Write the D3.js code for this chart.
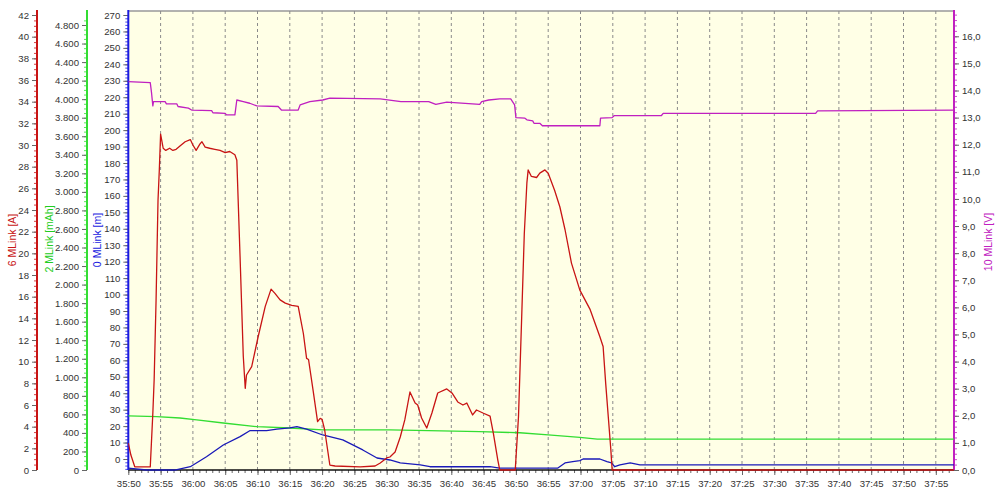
<!DOCTYPE html>
<html><head><meta charset="utf-8">
<script src="https://cdn.jsdelivr.net/npm/d3@7"></script>
<style>
body{margin:0;background:#fff}
svg{display:block;font-family:"Liberation Sans",Arial,sans-serif}
</style>
</head><body>
<svg id="c" width="1001" height="493"></svg>
<script>
// ---- data (time in minutes, label = mm:ss style "35:50") ----
const timeTicks = d3.range(2150, 2276, 5);
const ampTicks = d3.range(0, 43, 2);
const mahTicks = d3.range(0, 4801, 200);
const meterTicks = d3.range(0, 271, 10);
const voltTicks = d3.range(0, 17, 1);

const redTime = [2150,2150.4,2151.0,2153.4,2153.8,2154.0,2154.3,2154.6,2154.8,2155.0,2155.4,2155.8,2156.4,2156.9,2157.4,2158.0,2158.8,2159.6,2160.0,2160.5,2161.1,2161.4,2161.9,2162.6,2163.4,2164.2,2165.0,2165.7,2166.5,2166.8,2167.3,2167.8,2168.1,2168.3,2169.1,2170.1,2171.2,2172.1,2172.7,2173.5,2174.3,2175.3,2176.3,2177.1,2177.6,2177.9,2178.6,2179.3,2179.7,2180.0,2180.4,2181.2,2182.0,2185.9,2188.2,2189.0,2190.0,2190.5,2191.3,2192.1,2192.8,2193.6,2194.4,2194.8,2195.4,2196.2,2197.0,2197.9,2199.3,2200.1,2201.0,2201.8,2202.4,2203.3,2203.9,2204.9,2206.0,2206.5,2207.2,2207.5,2209.9,2210.4,2210.9,2211.3,2211.7,2211.9,2212.4,2213.2,2213.7,2214.5,2215.0,2216.0,2216.8,2217.6,2218.6,2219.9,2221.5,2223.0,2223.5,2223.9,2224.3,2224.7,2224.9,2277.8];
const redAmps = [2.49,1.38,0.30,0.28,5.26,8.31,15.7,24.9,27.7,31.0,29.7,29.5,29.7,29.5,29.6,29.9,30.3,30.5,30.0,29.5,30.1,30.3,29.8,29.7,29.6,29.5,29.3,29.4,29.1,28.6,19.7,10.5,7.54,8.77,9.54,12.3,15.1,16.7,16.3,15.7,15.4,15.2,15.1,12.6,10.3,10.2,7.38,4.46,4.77,4.68,3.69,0.46,0.37,0.28,0.37,0.65,1.11,1.20,1.66,3.05,4.62,7.20,6.18,6.00,4.80,3.88,5.26,7.11,7.48,7.11,6.28,6.00,6.18,5.08,5.54,5.26,4.98,3.42,0.92,0,0,4.92,14.2,21.8,26.5,27.7,27.1,27.0,27.4,27.7,27.4,25.8,24.3,22.2,19.1,16.6,14.8,12.3,11.4,8.00,4.92,1.85,0,0];

const blueTime = [2150,2152.8,2157.2,2159.6,2162.1,2164.7,2167.3,2168.8,2171.4,2173.0,2175.0,2176.1,2177.6,2180.1,2183.2,2186.3,2188.5,2190.5,2192.1,2195.2,2196.7,2206.0,2207.5,2216.5,2217.6,2218.8,2219.9,2220.4,2223.0,2224.1,2224.8,2225.3,2226.1,2227.7,2229.2,2277.8];
const blueMeters = [-5.5,-6.7,-6.7,-4.7,1.4,8.5,13.6,17.2,17.2,18.2,18.9,19.7,18.2,14.6,11.6,5.5,0.6,-0.6,-2.3,-3.6,-4.7,-4.7,-5.5,-5.5,-2.4,-1.6,-1.0,0,0,-1.6,-2.4,-4.7,-3.6,-2.4,-3.6,-3.6];

const greenTime = [2150,2154.4,2158.0,2160.6,2164.7,2169.9,2175.0,2180.1,2190.5,2204.4,2210.6,2215.0,2219.9,2222.6,2277.8];
const greenMah = [583,575,561,540,507,467,453,432,432,413,402,378,353,334,334];

const voltTime = [2150,2153.4,2153.6,2153.8,2153.9,2155.7,2155.9,2157.5,2157.7,2159.3,2159.8,2162.9,2163.1,2165.0,2165.2,2166.5,2166.8,2167.8,2168.8,2169.9,2173.2,2173.7,2176.3,2176.6,2178.1,2180.1,2181.2,2189.0,2192.2,2196.5,2197.6,2199.3,2204.4,2204.7,2205.8,2207.5,2209.2,2209.8,2210.0,2211.4,2211.7,2212.6,2212.8,2213.7,2214.1,2223.0,2223.1,2224.9,2225.2,2232.5,2232.8,2256.4,2256.7,2277.8];
const voltV = [14.33,14.29,13.91,13.43,13.59,13.59,13.51,13.51,13.41,13.35,13.28,13.26,13.18,13.16,13.10,13.10,13.65,13.59,13.53,13.43,13.41,13.28,13.28,13.47,13.59,13.65,13.72,13.69,13.59,13.59,13.49,13.57,13.49,13.59,13.65,13.69,13.69,13.47,13.00,12.98,12.92,12.88,12.79,12.79,12.70,12.70,12.98,13.00,13.07,13.07,13.16,13.16,13.25,13.28];

// ---- layout ----
const L = 128.3, R = 954, T = 11, B = 470;
const C = {red:"#C81414", green:"#33DD33", blue:"#1A1AB8", mag:"#C020C0"};
const svg = d3.select("#c");

const x = d3.scaleLinear().domain([2150, 2150 + (R - L) / 6.46]).range([L, R]);
const yA = d3.scaleLinear().domain([0, 42]).range([B, 15]);
const yG = d3.scaleLinear().domain([0, 4800]).range([B, 25]);
const yM = d3.scaleLinear().domain([0, 270]).range([459, 15]);
const yV = d3.scaleLinear().domain([0, 16]).range([B, 36.3]);

// background
svg.append("rect").attr("x", L).attr("y", T).attr("width", R - L).attr("height", B - T).attr("fill", "#FFFFE6");
svg.append("line").attr("x1", L).attr("x2", R).attr("y1", T).attr("y2", T).attr("stroke", "#999").attr("stroke-width", 1.5);

// vertical dashed grid
svg.append("g").selectAll("line").data(timeTicks.slice(1)).join("line")
  .attr("x1", d => x(d)).attr("x2", d => x(d)).attr("y1", T).attr("y2", B)
  .attr("stroke", "#8a8a8a").attr("stroke-dasharray", "3,3").attr("stroke-width", 1);

const fmtTime = m => Math.floor(m / 60) + ":" + String(m % 60).padStart(2, "0");
const fmtMah = v => v >= 1000 ? d3.format(",")(v).replace(",", ".") : String(v);
const fmtVolt = v => d3.format(".1f")(v).replace(".", ",");

function styleAxis(g) {
  g.select(".domain").remove();
  g.selectAll(".tick line").attr("stroke", "#666");
  g.selectAll(".tick text").attr("fill", "#333").style("font-size", "9.6px");
}

// x axis
const xg = svg.append("g").attr("transform", `translate(0,${B})`)
  .call(d3.axisBottom(x).tickValues(timeTicks).tickFormat(fmtTime).tickSize(5).tickPadding(5));
styleAxis(xg);
const xm = svg.append("g").attr("transform", `translate(0,${B})`)
  .call(d3.axisBottom(x).tickValues(d3.range(2150, 2278, 1)).tickFormat("").tickSize(3));
xm.select(".domain").remove(); xm.selectAll("line").attr("stroke", "#666");
svg.append("line").attr("x1", L).attr("x2", R).attr("y1", B).attr("y2", B).attr("stroke", "#111").attr("stroke-width", 1.5);

function yAxis(scale, ticks, minors, fmt, xpos, color, right) {
  const ax = right ? d3.axisRight : d3.axisLeft;
  const gm = svg.append("g").attr("transform", `translate(${xpos},0)`)
    .call(ax(scale).tickValues(minors).tickFormat("").tickSize(3));
  gm.select(".domain").remove(); gm.selectAll("line").attr("stroke", color).attr("opacity", 0.8);
  const g = svg.append("g").attr("transform", `translate(${xpos},0)`)
    .call(ax(scale).tickValues(ticks).tickFormat(fmt).tickSize(5).tickPadding(3));
  styleAxis(g);
  svg.append("line").attr("x1", xpos).attr("x2", xpos).attr("y1", 10).attr("y2", B)
    .attr("stroke", color).attr("stroke-width", 2);
}
yAxis(yA, ampTicks, d3.range(0, 42.01, 0.5), d => d, 37, C.red, false);
yAxis(yG, mahTicks, d3.range(0, 4900, 50), fmtMah, 87, C.green, false);
yAxis(yM, meterTicks, d3.range(-6, 272, 2), d => d, 128.3, "#1A1AE0", false);
yAxis(yV, voltTicks, d3.range(0, 16.9, 0.2), fmtVolt, R, C.mag, true);

// axis titles
function title(txt, xc, yc, color) {
  svg.append("text").attr("transform", `translate(${xc},${yc}) rotate(-90)`)
    .attr("text-anchor", "middle").attr("dy", "0.35em").attr("fill", color)
    .style("font-size", "10.5px").text(txt);
}
title("6 MLink [A]", 12.5, 240, C.red);
title("2 MLink [mAh]", 49, 239, "#22CC22");
title("0 MLink [m]", 97.5, 240, "#1A1AE0");
title("10 MLink [V]", 988, 242, C.mag);

// series
svg.append("clipPath").attr("id", "pc").append("rect")
  .attr("x", L).attr("y", T).attr("width", R - L).attr("height", B - T + 1);
const plot = svg.append("g").attr("clip-path", "url(#pc)");
function series(tArr, vArr, ys, color, w) {
  const pts = tArr.map((t, i) => [t, vArr[i]]);
  plot.append("path").datum(pts)
    .attr("d", d3.line().x(d => x(d[0])).y(d => ys(d[1])))
    .attr("fill", "none").attr("stroke", color).attr("stroke-width", w).attr("stroke-linejoin", "round");
}
series(greenTime, greenMah, yG, C.green, 1.3);
series(blueTime, blueMeters, yM, C.blue, 1.3);
series(voltTime, voltV, yV, C.mag, 1.3);
series(redTime, redAmps, yA, C.red, 1.3);
</script>
</body></html>
